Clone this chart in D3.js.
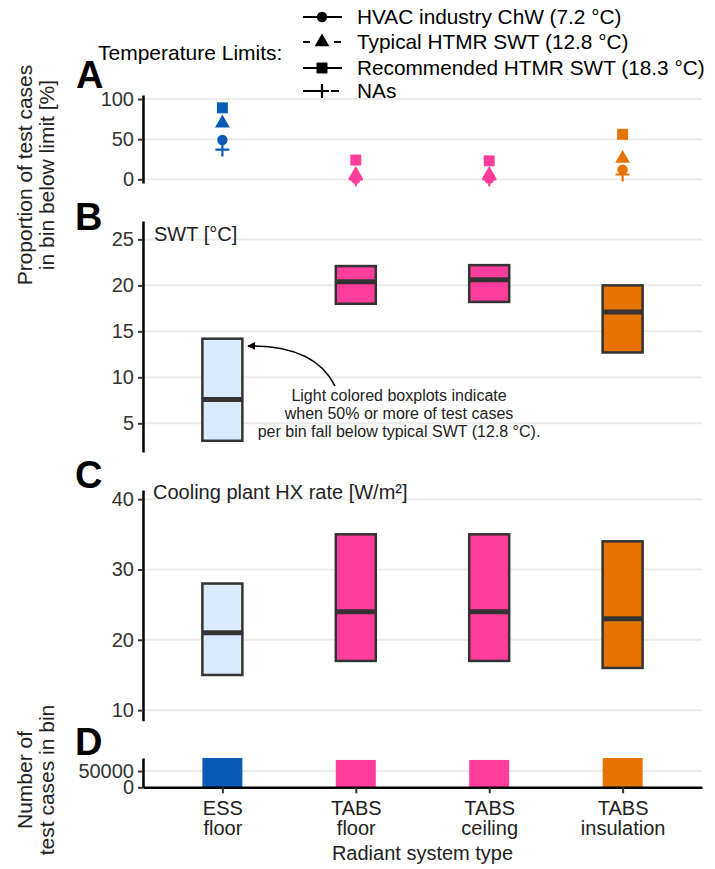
<html>
<script src='https://d3js.org/d3.v7.min.js'></script>
<style>
body {margin:0; background:#fff;}
text {font-family: 'Liberation Sans', Arial, sans-serif;}
.grid {stroke:#ebebeb; stroke-width:2;}
.yax .domain {stroke:#000; stroke-width:2.5;}
.yax .tick line {stroke:#333; stroke-width:2;}
.yax .tick text {font-size:20px; fill:#333;}
</style>
<body>
<svg width=715 height=869></svg>
<script>
var cats = ['ESS floor','TABS floor','TABS ceiling','TABS insulation'];
var catLines = [['ESS','floor'],['TABS','floor'],['TABS','ceiling'],['TABS','insulation']];
var catColors = ['#0a5bb5','#ff3e9b','#ff3e9b','#e67300'];
var boxFills = ['#dcebfc','#ff3e9b','#ff3e9b','#e67300'];

// panel A: proportion below each limit [%]
var limitNames = ['HVAC industry ChW (7.2 °C)','Typical HTMR SWT (12.8 °C)','Recommended HTMR SWT (18.3 °C)','NAs'];
var pctChW  = [49, 1, 1, 12];
var pctTyp  = [70, 6, 6, 26];
var pctRec  = [89, 24, 23, 56];
var pctNA   = [37, 0, 0, 6];

// panel B: SWT boxes [low, median, high]
var swtLow = [3.1, 18.0, 18.2, 12.7];
var swtMed = [7.6, 20.4, 20.6, 17.1];
var swtHigh = [14.2, 22.1, 22.2, 20.0];

// panel C: HX rate boxes
var hxLow = [15, 17, 17, 16];
var hxMed = [21, 24, 24, 23];
var hxHigh = [28, 35, 35, 34];

// panel D: counts
var counts = [90000, 84000, 84000, 90000];

var svg = d3.select('svg');
var x = d3.scalePoint().domain(cats).range([143, 702]).padding(0.595);
var bw = 40;

var yA = d3.scaleLinear().domain([-4.6, 105]).range([183, 95]);
var yB = d3.scaleLinear().domain([1.88, 27]).range([452, 221]);
var yC = d3.scaleLinear().domain([8.5, 41.3]).range([720.7, 490]);
var yD = d3.scaleLinear().domain([0, 90000]).range([787.3, 758]);

function grid(y, vals) {
  svg.append('g').selectAll('line').data(vals).enter().append('line')
    .attr('class','grid')
    .attr('x1', 143).attr('x2', 702)
    .attr('y1', function(d){return y(d);}).attr('y2', function(d){return y(d);});
}
function yaxis(y, vals) {
  svg.append('g').attr('class','yax').attr('transform','translate(143,0)')
    .call(d3.axisLeft(y).tickValues(vals).tickFormat(d3.format('d')).tickSize(5).tickSizeOuter(0).tickPadding(4));
}

grid(yA, [0,50,100]);
grid(yB, [5,10,15,20,25]);
grid(yC, [10,20,30,40]);
grid(yD, [50000]);

// panel A markers
var sym = {
  circle: d3.symbol().type(d3.symbolCircle).size(85),
  triangle: d3.symbol().type(d3.symbolTriangle).size(95),
  square: d3.symbol().type(d3.symbolSquare).size(120)
};
function markers(vals, shape) {
  svg.append('g').selectAll('path').data(vals).enter().append('path')
    .attr('d', sym[shape])
    .attr('transform', function(d,i){return 'translate('+x(cats[i])+','+yA(d)+')';})
    .attr('fill', function(d,i){return catColors[i];});
}
markers(pctRec, 'square');
markers(pctTyp, 'triangle');
markers(pctChW, 'circle');
svg.append('g').selectAll('path').data(pctNA).enter().append('path')
  .attr('d', 'M-7,0H7M0,-7V7')
  .attr('transform', function(d,i){return 'translate('+x(cats[i])+','+yA(d)+')';})
  .attr('stroke', function(d,i){return catColors[i];}).attr('stroke-width', 2.2).attr('fill','none');

// boxes
function boxes(y, lo, med, hi) {
  var g = svg.append('g');
  g.selectAll('rect').data(cats).enter().append('rect')
    .attr('x', function(d){return x(d)-bw/2;})
    .attr('y', function(d,i){return y(hi[i]);})
    .attr('width', bw)
    .attr('height', function(d,i){return y(lo[i]) - y(hi[i]);})
    .attr('fill', function(d,i){return boxFills[i];})
    .attr('stroke', '#333').attr('stroke-width', 2.5);
  g.selectAll('line').data(cats).enter().append('line')
    .attr('x1', function(d){return x(d)-bw/2;}).attr('x2', function(d){return x(d)+bw/2;})
    .attr('y1', function(d,i){return y(med[i]);}).attr('y2', function(d,i){return y(med[i]);})
    .attr('stroke', '#333').attr('stroke-width', 5);
}
boxes(yB, swtLow, swtMed, swtHigh);
boxes(yC, hxLow, hxMed, hxHigh);

// panel D bars
svg.append('g').selectAll('rect').data(counts).enter().append('rect')
  .attr('x', function(d,i){return x(cats[i])-bw/2;})
  .attr('y', function(d){return yD(d);})
  .attr('width', bw)
  .attr('height', function(d){return yD(0)-yD(d);})
  .attr('fill', function(d,i){return catColors[i];});

yaxis(yA, [0,50,100]);
yaxis(yB, [5,10,15,20,25]);
yaxis(yC, [10,20,30,40]);
yaxis(yD, [0,50000]);

// x axis
var xa = svg.append('g').attr('transform','translate(0,787.3)')
  .call(d3.axisBottom(x).tickSize(6).tickSizeOuter(0).tickFormat(''));
xa.select('.domain').attr('stroke','#000').attr('stroke-width',2.5);
xa.selectAll('.tick line').attr('stroke','#333').attr('stroke-width',2);
xa.selectAll('.tick').append('text')
  .attr('text-anchor','middle').attr('fill','#222').style('font-size','20px')
  .selectAll('tspan').data(function(d,i){return catLines[i];}).enter().append('tspan')
  .attr('x',0).attr('y', function(d,j){return 28 + j*20;})
  .text(function(d){return d;});

svg.append('text').attr('x', 422.5).attr('y', 860).attr('text-anchor','middle')
  .style('font-size','20px').attr('fill','#222').text('Radiant system type');

// y titles
function ytitle(lines, cy) {
  var t = svg.append('text').attr('transform','translate(0,'+cy+') rotate(-90)')
    .attr('text-anchor','middle').style('font-size','21px').attr('fill','#222');
  t.selectAll('tspan').data(lines).enter().append('tspan')
    .attr('x',0).attr('y', function(d,i){return 32 + i*22;}).text(function(d){return d;});
}
ytitle(['Proportion of test cases','in bin below limit [%]'], 175);
ytitle(['Number of','test cases in bin'], 780);

// panel letters
[['A',76,88],['B',75,230],['C',75,488],['D',75,755]].forEach(function(p){
  svg.append('text').attr('x',p[1]).attr('y',p[2]).style('font-size','38px')
    .style('font-weight','bold').attr('fill','#000').text(p[0]);
});

// panel subtitles
svg.append('text').attr('x',154).attr('y',241).style('font-size','20px').attr('fill','#222').text('SWT [°C]');
svg.append('text').attr('x',153).attr('y',499).style('font-size','20px').attr('fill','#222').text('Cooling plant HX rate [W/m²]');

// annotation
svg.append('defs').append('marker').attr('id','ah').attr('viewBox','0 0 10 10')
  .attr('refX',9).attr('refY',5).attr('markerWidth',5).attr('markerHeight',5)
  .attr('orient','auto').append('path').attr('d','M0,0L10,5L0,10z').attr('fill','#000');
svg.append('path').attr('d','M335,386 Q315,345 248,346')
  .attr('fill','none').attr('stroke','#000').attr('stroke-width',1.6).attr('marker-end','url(#ah)');
var note = svg.append('text').attr('text-anchor','middle').style('font-size','16px').attr('fill','#222');
note.selectAll('tspan').data(['Light colored boxplots indicate','when 50% or more of test cases','per bin fall below typical SWT (12.8 °C).'])
  .enter().append('tspan').attr('x',399).attr('y',function(d,i){return 401 + i*18;}).text(function(d){return d;});

// legend
svg.append('text').attr('x',98).attr('y',60).style('font-size','21px').attr('fill','#000').text('Temperature Limits:');
var legY = [17, 42, 68, 91];
var lg = svg.append('g');
lg.append('line').attr('x1',303).attr('x2',342).attr('y1',legY[0]).attr('y2',legY[0]).attr('stroke','#000').attr('stroke-width',2.2);
lg.append('path').attr('d','M303,'+legY[1]+'H310M334,'+legY[1]+'H341').attr('stroke','#000').attr('stroke-width',2.2);
lg.append('line').attr('x1',303).attr('x2',342).attr('y1',legY[2]).attr('y2',legY[2]).attr('stroke','#000').attr('stroke-width',2.2);
lg.append('path').attr('d','M303,'+legY[3]+'H317M331,'+legY[3]+'H339').attr('stroke','#000').attr('stroke-width',2.2);
lg.append('path').attr('d', sym.circle).attr('transform','translate(322,'+legY[0]+')');
lg.append('path').attr('d', sym.triangle).attr('transform','translate(322,'+legY[1]+')');
lg.append('path').attr('d', sym.square).attr('transform','translate(322,'+legY[2]+')');
lg.append('path').attr('d','M-7,0H7M0,-7V7').attr('transform','translate(322,'+legY[3]+')')
  .attr('stroke','#000').attr('stroke-width',2.2);
lg.selectAll('text').data(limitNames).enter().append('text')
  .attr('x',357).attr('y',function(d,i){return legY[i]+7;})
  .style('font-size','20.8px').attr('fill','#000').text(function(d){return d;});
</script>
</body>
</html>
